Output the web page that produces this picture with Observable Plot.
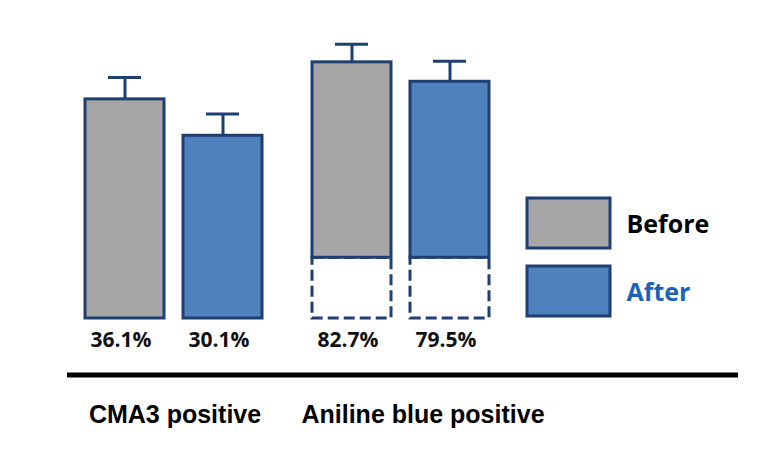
<!DOCTYPE html>
<html>
<head>
<meta charset="utf-8">
<script src="https://cdn.jsdelivr.net/npm/d3@7"></script>
<script src="https://cdn.jsdelivr.net/npm/@observablehq/plot@0.6"></script>
<style>
  body { margin: 0; background: #fff; }
  #chart { position: relative; width: 759px; height: 468px; }
  #chart svg { position: absolute; left: 0; top: 0; }
</style>
</head>
<body>
<div id="chart"></div>
<script>
// ---- data ----
const groups = ["CMA3 positive", "Aniline blue positive"];
const series = ["Before", "After"];
const cma3Values = [36.1, 30.1];
const cma3Errors = [3.6, 3.6];
const anilineValues = [82.7, 79.5];
const anilineErrors = [3.0, 3.4];
const brokenGroups = ["Aniline blue positive"]; // axis break shown with dashed segment
const breakAt = 50.5;   // value at which the broken bars resume
const breakGap = 10;    // displayed height of the omitted segment

// ---- table built from the arrays ----
const rows = [];
[[groups[0], cma3Values, cma3Errors], [groups[1], anilineValues, anilineErrors]].forEach(([g, vals, errs]) => {
  vals.forEach((v, i) => {
    const broken = brokenGroups.includes(g);
    const base = broken ? breakGap : 0;
    const top = broken ? breakGap + (v - breakAt) : v;
    rows.push({group: g, series: series[i], value: v, err: errs[i], broken, base, top});
  });
});

const fills = {Before: "#a6a6a6", After: "#4f81bd"};
const edge = "#1f3f73";
const labelFont = "'Open Sans', sans-serif";

const main = Plot.plot({
  width: 759,
  height: 468,
  marginLeft: 83,
  marginRight: 268,
  marginTop: 14.5,
  marginBottom: 150,
  fx: {domain: groups, paddingInner: 0.21, paddingOuter: 0, axis: null, label: null},
  x: {domain: series, paddingInner: 0.19, paddingOuter: 0, axis: null, label: null},
  y: {domain: [0, 50], axis: null},
  marks: [
    Plot.barY(rows.filter(d => d.broken), {
      fx: "group", x: "series", y1: 0, y2: "base",
      fill: "none", stroke: edge, strokeWidth: 3, strokeDasharray: "11,5"
    }),
    Plot.ruleX(rows, {
      fx: "group", x: "series", y1: "top", y2: d => d.top + d.err,
      stroke: edge, strokeWidth: 3
    }),
    Plot.barY(rows, {
      fx: "group", x: "series", y1: "base", y2: "top",
      fill: d => fills[d.series], stroke: edge, strokeWidth: 3
    }),
    Plot.tickY(rows, {
      fx: "group", x: "series", y: d => d.top + d.err,
      stroke: edge, strokeWidth: 3, insetLeft: 23, insetRight: 23
    }),
    Plot.text(rows, {
      fx: "group", x: "series", y: 0, text: d => d.value.toFixed(1) + "%",
      dy: 22, dx: -4, fontSize: 21, fontWeight: 700, fontFamily: labelFont, fill: "#111"
    }),
    Plot.text([groups[0]], {
      fx: d => d, text: d => d, frameAnchor: "bottom", dy: 104, dx: 1,
      fontSize: 25, fontWeight: 700, fontFamily: "'Liberation Sans', Arial, sans-serif", fill: "#000"
    }),
    Plot.text([groups[1]], {
      fx: d => d, text: d => d, frameAnchor: "bottom", dy: 104, dx: 22,
      fontSize: 25, fontWeight: 700, fontFamily: "'Liberation Sans', Arial, sans-serif", fill: "#000"
    })
  ]
});

const legendColors = {Before: "#000000", After: "#1a63b8"};
const legendText = (name) => Plot.text([name], {
  x: () => "swatch", y: d => d, text: d => d, textAnchor: "start",
  dx: 57.5, dy: 1, fill: legendColors[name], fontSize: 25, fontWeight: 700, fontFamily: labelFont
});
const overlay = Plot.plot({
  width: 759,
  height: 468,
  marginLeft: 69,
  marginRight: 24,
  marginTop: 0,
  marginBottom: 93.5,
  x: {domain: ["swatch"], range: [527, 610], padding: 0, axis: null},
  y: {domain: series, range: [197, 317], paddingInner: 0.26, paddingOuter: 0, axis: null},
  style: {background: "transparent"},
  marks: [
    Plot.frame({anchor: "bottom", stroke: "#000", strokeWidth: 5}),
    Plot.cell(series, {
      x: () => "swatch", y: d => d, fill: d => fills[d], stroke: edge, strokeWidth: 3
    }),
    legendText("Before"),
    legendText("After")
  ]
});

const chart = document.getElementById("chart");
chart.appendChild(main);
chart.appendChild(overlay);
</script>
</body>
</html>
